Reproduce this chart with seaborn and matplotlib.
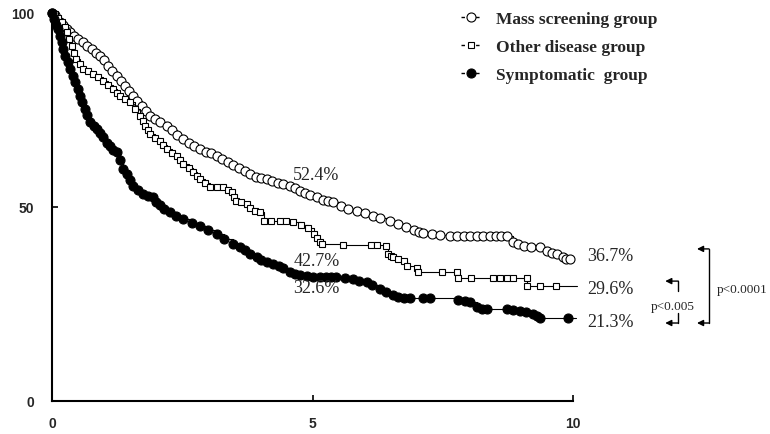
import numpy as np
import pandas as pd
import matplotlib
matplotlib.use("Agg")
import matplotlib.pyplot as plt
from matplotlib.lines import Line2D
import seaborn as sns

# -------------------------------
# Survival curves by detection group
# -------------------------------

# Mass screening group (open circles)
ms_t = [0.00, 0.06, 0.15, 0.22, 0.28, 0.35, 0.42, 0.50, 0.60, 0.68, 0.76, 0.84, 0.92,
        1.00, 1.08, 1.16, 1.24, 1.32, 1.40, 1.48, 1.56, 1.64, 1.72, 1.80, 1.88, 1.98,
        2.08, 2.20, 2.30, 2.40, 2.52, 2.62, 2.72, 2.84, 2.95, 3.05, 3.16, 3.26, 3.37,
        3.48, 3.58, 3.70, 3.80, 3.92, 4.02, 4.12, 4.22, 4.33, 4.44, 4.57, 4.66, 4.76,
        4.86, 4.96, 5.08, 5.21, 5.30, 5.40, 5.55, 5.69, 5.85, 6.00, 6.17, 6.30, 6.49,
        6.65, 6.80, 6.95, 7.05, 7.13, 7.30, 7.45, 7.64, 7.77, 7.90, 8.02, 8.15, 8.28,
        8.40, 8.52, 8.62, 8.73, 8.85, 8.95, 9.05, 9.20, 9.37, 9.50, 9.60, 9.69, 9.80,
        9.87, 9.94, 10.00]
ms_s = [100.0, 99.5, 97.8, 96.8, 95.9, 95.0, 94.2, 93.4, 92.4, 91.4, 90.6, 89.8, 89.0,
        87.8, 86.4, 85.0, 83.8, 82.5, 81.2, 80.0, 78.7, 77.4, 76.0, 74.8, 73.5, 72.6,
        71.8, 71.0, 69.8, 68.6, 67.5, 66.6, 65.7, 64.9, 64.3, 63.8, 63.2, 62.5, 61.6,
        60.7, 60.0, 59.2, 58.5, 57.8, 57.5, 57.2, 56.8, 56.3, 55.9, 55.3, 54.8, 54.2,
        53.6, 53.1, 52.5, 51.8, 51.6, 51.2, 50.3, 49.5, 48.9, 48.4, 47.8, 47.2, 46.5,
        45.6, 44.8, 44.2, 43.6, 43.4, 43.1, 42.8, 42.6, 42.6, 42.6, 42.6, 42.6, 42.6,
        42.6, 42.6, 42.6, 42.6, 40.9, 40.4, 40.0, 39.8, 39.6, 38.6, 38.2, 37.9, 37.0,
        36.7, 36.7, 36.7]

# Other disease group (open squares)
od_t = [0.00, 0.06, 0.12, 0.19, 0.24, 0.28, 0.33, 0.38, 0.42, 0.47, 0.53, 0.60, 0.70,
        0.79, 0.88, 0.98, 1.08, 1.18, 1.25, 1.31, 1.40, 1.50, 1.60, 1.69, 1.74, 1.79,
        1.84, 1.88, 1.98, 2.07, 2.14, 2.20, 2.30, 2.39, 2.45, 2.52, 2.62, 2.71, 2.78,
        2.84, 2.93, 3.03, 3.16, 3.29, 3.37, 3.45, 3.50, 3.54, 3.62, 3.74, 3.80, 3.90,
        3.99, 4.06, 4.20, 4.38, 4.50, 4.63, 4.78, 4.92, 5.02, 5.08, 5.14, 5.18, 5.59,
        6.13, 6.23, 6.42, 6.45, 6.50, 6.55, 6.65, 6.75, 6.81, 7.00, 7.03, 7.48, 7.77,
        7.80, 8.05, 8.47, 8.60, 8.73, 8.85, 9.11, 9.12, 9.37, 9.67, 10.07]
od_s = [100.0, 99.7, 98.6, 97.6, 96.3, 95.0, 93.3, 91.6, 89.8, 88.1, 86.8, 85.6, 85.0,
        84.3, 83.4, 82.6, 81.5, 80.4, 79.5, 78.7, 77.8, 77.0, 75.2, 73.5, 72.2, 71.0,
        69.9, 68.8, 67.9, 67.1, 66.0, 64.9, 64.0, 63.2, 62.1, 61.1, 60.0, 58.9, 58.0,
        57.2, 56.1, 55.1, 55.1, 55.1, 54.4, 53.8, 52.7, 51.6, 51.2, 50.8, 49.8, 49.0,
        48.6, 46.5, 46.5, 46.5, 46.3, 46.1, 45.3, 44.7, 43.0, 42.1, 40.9, 40.5, 40.2,
        40.2, 40.2, 40.0, 37.9, 37.4, 37.0, 36.6, 36.2, 34.9, 34.4, 33.2, 33.2, 33.2,
        31.7, 31.7, 31.7, 31.7, 31.7, 31.7, 31.7, 29.6, 29.6, 29.6, 29.6]

# Symptomatic group (filled circles)
sy_t = [0.00, 0.04, 0.08, 0.12, 0.16, 0.19, 0.22, 0.25, 0.30, 0.35, 0.40, 0.44, 0.49,
        0.54, 0.58, 0.63, 0.68, 0.73, 0.80, 0.86, 0.92, 0.98, 1.05, 1.12, 1.18, 1.24,
        1.30, 1.37, 1.43, 1.50, 1.56, 1.65, 1.75, 1.85, 1.94, 2.00, 2.07, 2.15, 2.26,
        2.38, 2.52, 2.68, 2.84, 3.00, 3.16, 3.30, 3.48, 3.61, 3.70, 3.80, 3.93, 4.02,
        4.12, 4.25, 4.35, 4.44, 4.57, 4.66, 4.76, 4.89, 5.00, 5.14, 5.25, 5.35, 5.46,
        5.62, 5.78, 5.90, 6.04, 6.15, 6.30, 6.42, 6.55, 6.65, 6.75, 6.87, 7.13, 7.25,
        7.80, 7.92, 8.02, 8.15, 8.25, 8.34, 8.73, 8.85, 8.98, 9.10, 9.24, 9.30, 9.37,
        9.91, 10.05]
sy_s = [100.0, 98.5, 97.0, 95.9, 94.0, 92.4, 90.6, 89.0, 87.3, 85.6, 83.8, 82.1, 80.4,
        78.7, 77.0, 75.3, 73.6, 71.8, 70.8, 70.0, 69.2, 68.0, 66.6, 65.6, 64.8, 64.1,
        62.0, 59.8, 58.4, 56.9, 55.5, 54.3, 53.4, 52.9, 52.5, 51.4, 50.4, 49.5, 48.6,
        47.8, 46.9, 46.0, 45.2, 44.2, 43.0, 41.8, 40.5, 39.6, 38.8, 37.9, 37.0, 36.4,
        35.7, 35.3, 34.8, 34.4, 33.2, 32.8, 32.5, 32.3, 32.0, 31.9, 31.9, 31.9, 31.9,
        31.6, 31.4, 31.0, 30.6, 29.8, 28.9, 28.0, 27.2, 26.8, 26.5, 26.5, 26.5, 26.5,
        26.1, 25.8, 25.4, 24.1, 23.8, 23.7, 23.7, 23.5, 23.3, 23.0, 22.4, 21.8, 21.3,
        21.3, 21.3]

group_names = ["Mass screening group", "Other disease group", "Symptomatic  group"]
five_year = ["52.4%", "42.7%", "32.6%"]
five_year_y = [58.5, 36.1, 29.3]
ten_year = ["36.7%", "29.6%", "21.3%"]
ten_year_y = [37.4, 28.9, 20.4]

sns.set_style("ticks")
plt.rcParams["font.family"] = ["Liberation Serif", "DejaVu Serif"]

fig = plt.figure(figsize=(7.7, 4.35), dpi=100)
ax = fig.add_axes([52 / 770, 33 / 435, 521 / 770, 388 / 435])

styles = [
    dict(marker="o", markersize=6.5, markerfacecolor="white"),
    dict(marker="s", markersize=4.5, markerfacecolor="white"),
    dict(marker="o", markersize=6.5, markerfacecolor="black"),
]
for (t, s), st in zip([(ms_t, ms_s), (od_t, od_s), (sy_t, sy_s)], styles):
    d = pd.DataFrame({"t": t, "s": s})
    sns.lineplot(data=d, x="t", y="s", ax=ax, estimator=None, sort=False,
                 drawstyle="steps-post", color="black", linewidth=0.8,
                 markeredgecolor="black", markeredgewidth=0.8,
                 markevery=slice(0, -1), clip_on=False, **st)

ax.set_xlim(0, 10)
ax.set_ylim(0, 100)
ax.set_xticks([0, 5, 10])
ax.set_yticks([0, 50, 100])
ax.set_xlabel("")
ax.set_ylabel("")
sns.despine(ax=ax)
for sp in ["left", "bottom"]:
    ax.spines[sp].set_linewidth(1.5)
    ax.spines[sp].set_color("black")
ax.tick_params(direction="in", length=4, width=1.2, color="black")
ax.tick_params(axis="x", pad=11)
ax.tick_params(axis="y", pad=13)
for lab in ax.get_xticklabels() + ax.get_yticklabels():
    lab.set_fontfamily("Liberation Sans")
    lab.set_fontweight("bold")
    lab.set_fontsize(10)

# survival percentages
for txt, y in zip(five_year, five_year_y):
    ax.text(4.63, y, txt, fontsize=13, ha="left", va="center")
for txt, y in zip(ten_year, ten_year_y):
    ax.text(10.27, y, txt, fontsize=13, ha="left", va="center", clip_on=False)

# p-value brackets
arr = dict(arrowstyle="-|>", color="black", lw=1, mutation_scale=9, shrinkA=0, shrinkB=0)
for y in [39.2, 20.1]:
    ax.annotate("", xy=(12.38, y), xytext=(12.61, y), arrowprops=arr, annotation_clip=False)
ax.plot([12.61, 12.61], [39.2, 20.1], color="black", lw=1, clip_on=False)
for y in [30.9, 20.1]:
    ax.annotate("", xy=(11.77, y), xytext=(12.02, y), arrowprops=arr, annotation_clip=False)
ax.plot([12.02, 12.02], [30.9, 28.4], color="black", lw=1, clip_on=False)
ax.plot([12.02, 12.02], [20.1, 22.7], color="black", lw=1, clip_on=False)
ax.text(11.92, 24.5, "p<0.005", fontsize=9.5, ha="center", va="center", clip_on=False)
ax.text(12.75, 28.9, "p<0.0001", fontsize=9.5, ha="left", va="center", clip_on=False)

# legend
handles = [Line2D([], [], color="black", lw=1, dashes=(2.5, 8), markeredgecolor="black",
                  markeredgewidth=0.8, **st) for st in styles]
leg = ax.legend(handles, group_names, loc="upper left", bbox_to_anchor=(456 / 770, 0.984),
                bbox_transform=fig.transFigure, frameon=False, handlelength=1.1,
                handletextpad=0.9, labelspacing=0.68, borderpad=0.3, borderaxespad=0,
                prop=dict(family="Liberation Serif", weight="bold", size=12.5))

fig.savefig("out.png", dpi=100)
